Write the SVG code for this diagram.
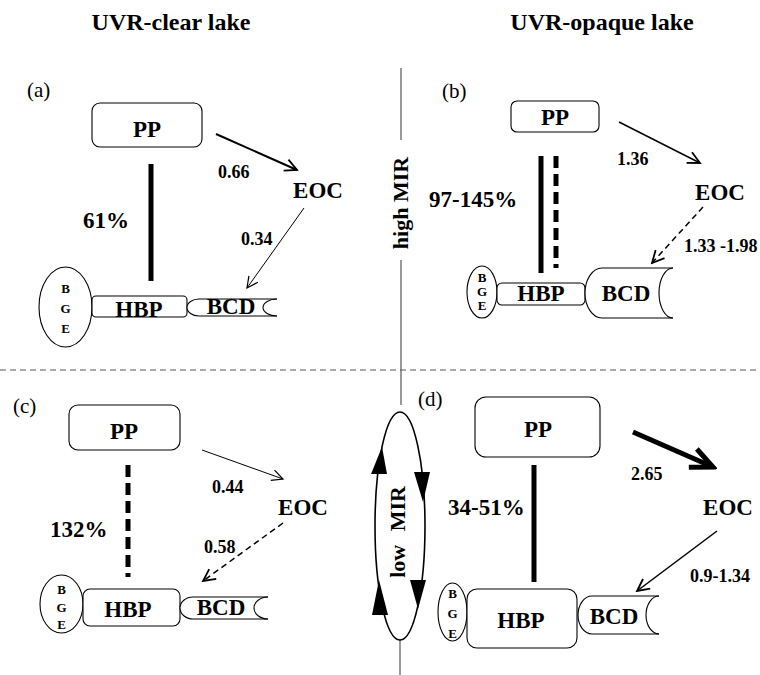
<svg xmlns="http://www.w3.org/2000/svg" width="760" height="675" viewBox="0 0 760 675">
<style>
text{font-family:"Liberation Serif","Times New Roman",serif;fill:#000}
.b{font-weight:bold}
.t{font-size:24px;font-weight:bold;text-anchor:middle}
.lab{font-size:21px}
.n{font-size:23px;font-weight:bold;text-anchor:middle}
.num{font-size:18px;font-weight:bold}
.pct{font-size:23px;font-weight:bold}
.g{font-size:13px;font-weight:bold;text-anchor:middle}
.box{fill:#fff;stroke:#000;stroke-width:1.1}
.ln{fill:none;stroke:#000}
.thick{fill:none;stroke:#000;stroke-width:5}
.dash5{stroke-dasharray:12 6}
.dsh{stroke-dasharray:6 4}
.div{fill:none;stroke:#555;stroke-width:1.2}
.tri{fill:#000}
</style>
<defs>
<marker id="ah1" markerUnits="userSpaceOnUse" viewBox="-14 -8 16 16" markerWidth="16" markerHeight="16" refX="0" refY="0" orient="auto"><path d="M-11,-5.5 L0,0 L-11,5.5" fill="none" stroke="#000" stroke-width="1.2"/></marker>
<marker id="ah2" markerUnits="userSpaceOnUse" viewBox="-16 -9 18 18" markerWidth="18" markerHeight="18" refX="0" refY="0" orient="auto"><path d="M-12,-6 L0,0 L-12,6" fill="none" stroke="#000" stroke-width="1.8"/></marker>
<marker id="ah3" markerUnits="userSpaceOnUse" viewBox="-28 -15 32 30" markerWidth="32" markerHeight="30" refX="0" refY="0" orient="auto"><path d="M-22,-10 L0,0 L-22,10" fill="none" stroke="#000" stroke-width="5"/></marker>
</defs>

<g id="titles">
<text class="t" x="171" y="30">UVR-clear lake</text>
<text class="t" x="602" y="30">UVR-opaque lake</text>
</g>

<g id="dividers">
<line class="div" x1="401" y1="68" x2="401" y2="140"/>
<text class="b" font-size="22" text-anchor="middle" transform="translate(408,203) rotate(-90)">high MIR</text>
<line class="div" x1="401" y1="260" x2="401" y2="405"/>
<line class="div" x1="0" y1="370" x2="760" y2="370" stroke-dasharray="6 4"/>
<line class="div" x1="400" y1="640" x2="400" y2="675"/>
</g>

<g id="low-mir">
<ellipse class="ln" cx="400" cy="526" rx="25" ry="114" stroke-width="1.6"/>
<polygon class="tri" points="382,447 371,474 387,474"/>
<polygon class="tri" points="379,580 372,615 388,615"/>
<polygon class="tri" points="414,472 430,472 423,502"/>
<polygon class="tri" points="410,580 426,580 418,609"/>
<text class="b" font-size="22" text-anchor="middle" word-spacing="8" transform="translate(405,532) rotate(-90)">low MIR</text>
</g>

<!-- Panel a -->
<g id="a-label"><text class="lab" x="27" y="97">(a)</text></g>
<g id="a-PP"><rect class="box" x="92" y="103" width="110" height="44" rx="8"/><text class="n" x="147" y="137" font-size="24">PP</text></g>
<g id="a-EOC"><text class="n" x="318" y="198">EOC</text></g>
<g id="a-BGE"><ellipse class="box" cx="65.5" cy="307" rx="26.5" ry="40"/><text class="g" x="65.5" y="293">B</text><text class="g" x="65.5" y="313">G</text><text class="g" x="65.5" y="333">E</text></g>
<g id="a-HBP"><rect class="box" x="92" y="296" width="95" height="21" rx="4"/><text class="n" x="139" y="317">HBP</text></g>
<g id="a-BCD"><path class="box" d="M277,299 L199,299 A12,8.5 0 0 0 199,316 L277,316"/><path class="ln" stroke-width="1.1" d="M277,299 A14,8.5 0 0 0 277,316"/><text class="n" x="231" y="314" font-size="18">BCD</text></g>

<!-- Panel b -->
<g id="b-label"><text class="lab" x="442" y="98">(b)</text></g>
<g id="b-PP"><rect class="box" x="511" y="101" width="88" height="31" rx="6"/><text class="n" x="555" y="125">PP</text></g>
<g id="b-EOC"><text class="n" x="720" y="200">EOC</text></g>
<g id="b-BGE"><ellipse class="box" cx="482" cy="292" rx="15" ry="26"/><text class="g" x="482" y="282" font-size="11">B</text><text class="g" x="482" y="296" font-size="11">G</text><text class="g" x="482" y="310" font-size="11">E</text></g>
<g id="b-HBP"><rect class="box" x="497" y="283" width="88" height="22" rx="5"/><text class="n" x="541" y="301" font-size="18">HBP</text></g>
<g id="b-BCD"><path class="box" d="M673,268 L602,268 A17,25 0 0 0 602,318 L673,318"/><path class="ln" stroke-width="1.1" d="M673,268 A14,25 0 0 0 673,318"/><text class="n" x="626" y="301">BCD</text></g>

<!-- Panel c -->
<g id="c-label"><text class="lab" x="13" y="413">(c)</text></g>
<g id="c-PP"><rect class="box" x="69" y="405" width="111" height="45" rx="9"/><text class="n" x="124" y="439" font-size="24">PP</text></g>
<g id="c-EOC"><text class="n" x="303" y="515">EOC</text></g>
<g id="c-BGE"><ellipse class="box" cx="61.5" cy="604" rx="21.5" ry="29"/><text class="g" x="61.5" y="594">B</text><text class="g" x="61.5" y="612">G</text><text class="g" x="61.5" y="629">E</text></g>
<g id="c-HBP"><rect class="box" x="83" y="589" width="97" height="37" rx="7"/><text class="n" x="128" y="617" font-size="24">HBP</text></g>
<g id="c-BCD"><path class="box" d="M268,597 L193,597 A13,11 0 0 0 193,619 L268,619"/><path class="ln" stroke-width="1.1" d="M268,597 A14,11 0 0 0 268,619"/><text class="n" x="221" y="615">BCD</text></g>

<!-- Panel d -->
<g id="d-label"><text class="lab" x="418" y="406">(d)</text></g>
<g id="d-PP"><rect class="box" x="475" y="397" width="125" height="60" rx="11"/><text class="n" x="538" y="437" font-size="24">PP</text></g>
<g id="d-EOC"><text class="n" x="728" y="515">EOC</text></g>
<g id="d-BGE"><ellipse class="box" cx="452.5" cy="612" rx="14.5" ry="29"/><text class="g" x="452.5" y="598">B</text><text class="g" x="452.5" y="618">G</text><text class="g" x="452.5" y="638">E</text></g>
<g id="d-HBP"><rect class="box" x="467" y="589" width="110" height="59" rx="10"/><text class="n" x="521" y="628">HBP</text></g>
<g id="d-BCD"><path class="box" d="M659,596 L592,596 A14,19 0 0 0 592,634 L659,634"/><path class="ln" stroke-width="1.1" d="M659,596 A13,19 0 0 0 659,634"/><text class="n" x="614" y="624">BCD</text></g>

<g id="connectors">
<!-- a -->
<line class="thick" x1="151" y1="164" x2="151" y2="281"/>
<line class="ln" stroke-width="2" x1="216" y1="134" x2="297" y2="170" marker-end="url(#ah2)"/>
<line class="ln" stroke-width="1" x1="304" y1="208" x2="247" y2="288" marker-end="url(#ah1)"/>
<!-- b -->
<line class="thick" x1="541" y1="156" x2="541" y2="273"/>
<line class="thick dash5" x1="556" y1="156" x2="556" y2="268"/>
<line class="ln" stroke-width="1.5" x1="619" y1="122" x2="700" y2="163" marker-end="url(#ah2)"/>
<line class="ln dsh" stroke-width="1.5" x1="703" y1="207" x2="652" y2="263" marker-end="url(#ah2)"/>
<!-- c -->
<line class="thick dash5" x1="128" y1="465" x2="128" y2="577"/>
<line class="ln" stroke-width="1" x1="202" y1="450" x2="283" y2="479" marker-end="url(#ah1)"/>
<line class="ln dsh" stroke-width="1.5" x1="283" y1="523" x2="203" y2="581" marker-end="url(#ah2)"/>
<!-- d -->
<line class="thick" x1="534" y1="465" x2="534" y2="582"/>
<line class="ln" stroke-width="5" x1="633" y1="432" x2="713" y2="467" marker-end="url(#ah3)"/>
<line class="ln" stroke-width="1.5" x1="717" y1="531" x2="637" y2="591" marker-end="url(#ah2)"/>
</g>

<g id="edge-labels">
<text class="num" x="218" y="178">0.66</text>
<text class="num" x="241" y="245">0.34</text>
<text class="pct" x="83" y="228">61%</text>
<text class="num" x="617" y="165">1.36</text>
<text class="num" x="684" y="252">1.33 -1.98</text>
<text class="pct" x="429" y="207">97-145%</text>
<text class="num" x="212" y="493">0.44</text>
<text class="num" x="204" y="553">0.58</text>
<text class="pct" x="50" y="537">132%</text>
<text class="num" x="631" y="480">2.65</text>
<text class="num" x="690" y="582">0.9-1.34</text>
<text class="pct" x="448" y="515">34-51%</text>
</g>
</svg>
